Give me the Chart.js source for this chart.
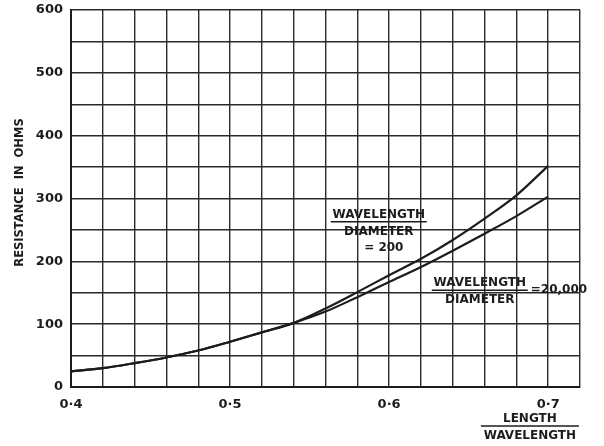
<!DOCTYPE html>
<html>
<head>
<meta charset="utf-8">
<script src="https://cdn.jsdelivr.net/npm/chart.js@4"></script>
<style>
  html, body { margin: 0; padding: 0; background: #fff; }
  #wrap { width: 604px; height: 446px; position: relative; }
</style>
</head>
<body>
<div id="wrap"><canvas id="chart"></canvas></div>
<script>
// length / wavelength
const LENGTH_RATIO = [0.40, 0.42, 0.44, 0.46, 0.48, 0.50, 0.52, 0.54,
                      0.56, 0.58, 0.60, 0.62, 0.64, 0.66, 0.68, 0.70];

// resistance (ohms), wavelength/diameter = 200
const RES_200 = [25, 30, 38, 47, 58, 72, 87, 102,
                 125, 151, 178, 204, 234, 268, 305, 352];

// resistance (ohms), wavelength/diameter = 20,000
const RES_20000 = [25, 30, 38, 47, 58, 72, 87, 102,
                   120, 143, 167, 191, 217, 244, 272, 303];

const X_LABELS = { "0.4": "0·4", "0.5": "0·5", "0.6": "0·6", "0.7": "0·7" };
const Y_LABELS = { 0: "0", 100: "100", 200: "200", 300: "300", 400: "400", 500: "500", 600: "600" };

const INK = "#1c1c1c";
const GRID = "#2a2a2a";

function toPoints(xs, ys) {
  return xs.map((x, i) => ({ x: x, y: ys[i] }));
}

function fraction(ctx, cx, lineY, top, bottom, width) {
  ctx.textAlign = "center";
  ctx.textBaseline = "alphabetic";
  ctx.fillText(top, cx, lineY - 4);
  ctx.textBaseline = "top";
  ctx.fillText(bottom, cx, lineY + 4);
  ctx.beginPath();
  ctx.moveTo(cx - width / 2, lineY);
  ctx.lineTo(cx + width / 2, lineY);
  ctx.stroke();
}

const labelsPlugin = {
  id: "labels",
  afterDraw(chart) {
    const ctx = chart.ctx;
    const x = chart.scales.x;
    const y = chart.scales.y;
    const area = chart.chartArea;
    ctx.save();
    ctx.fillStyle = INK;
    ctx.strokeStyle = INK;
    ctx.lineWidth = 1.5;
    ctx.font = "bold 12px 'DejaVu Sans'";

    // curve labels
    let lx = x.getPixelForValue(0.5935);
    let ly = y.getPixelForValue(263);
    fraction(ctx, lx, ly, "WAVELENGTH", "DIAMETER", 96);
    ctx.textAlign = "center";
    ctx.textBaseline = "top";
    ctx.fillText("= 200", lx + 5, ly + 20);

    lx = x.getPixelForValue(0.657);
    ly = y.getPixelForValue(154);
    fraction(ctx, lx, ly, "WAVELENGTH", "DIAMETER", 96);
    ctx.textAlign = "left";
    ctx.textBaseline = "middle";
    ctx.fillText("=20,000", lx + 51, ly);

    // x axis title
    lx = x.getPixelForValue(0.6885);
    ly = area.bottom + 39;
    fraction(ctx, lx, ly, "LENGTH", "WAVELENGTH", 98);

    // y axis title
    ctx.translate(20, (area.top + area.bottom) / 2);
    ctx.rotate(-Math.PI / 2);
    ctx.textAlign = "center";
    ctx.textBaseline = "middle";
    ctx.font = "bold 11.5px 'DejaVu Sans'";
    ctx.fillText("RESISTANCE  IN  OHMS", 6, 0);
    ctx.restore();
  }
};

new Chart(document.getElementById("chart"), {
  type: "line",
  data: {
    datasets: [
      {
        label: "wavelength/diameter = 200",
        data: toPoints(LENGTH_RATIO, RES_200),
        borderColor: INK,
        borderWidth: 2.2,
        pointRadius: 0,
        cubicInterpolationMode: "monotone",
        fill: false
      },
      {
        label: "wavelength/diameter = 20,000",
        data: toPoints(LENGTH_RATIO, RES_20000),
        borderColor: INK,
        borderWidth: 2.2,
        pointRadius: 0,
        cubicInterpolationMode: "monotone",
        fill: false
      }
    ]
  },
  options: {
    responsive: true,
    maintainAspectRatio: false,
    animation: false,
    layout: { padding: { top: 10, right: 24, left: 0, bottom: 0 } },
    plugins: {
      legend: { display: false },
      tooltip: { enabled: false }
    },
    scales: {
      x: {
        type: "linear",
        min: 0.4,
        max: 0.72,
        afterFit: s => { s.height = 59; s.paddingLeft = 0; s.paddingRight = 0; },
        grid: { color: GRID, lineWidth: 1.4, drawTicks: false },
        border: { color: INK, width: 2 },
        ticks: {
          stepSize: 0.02,
          padding: 10,
          maxRotation: 0,
          autoSkip: false,
          color: INK,
          font: { family: "DejaVu Sans", size: 13, weight: "bold" },
          callback: v => X_LABELS[v.toFixed(2).replace(/0$/, "")] || ""
        }
      },
      y: {
        min: 0,
        max: 600,
        afterFit: s => { s.width = 71; s.paddingTop = 0; s.paddingBottom = 0; },
        grid: { color: GRID, lineWidth: 1.4, drawTicks: false },
        border: { color: INK, width: 2 },
        ticks: {
          stepSize: 50,
          padding: 8,
          autoSkip: false,
          color: INK,
          font: { family: "DejaVu Sans", size: 13, weight: "bold" },
          callback: v => Y_LABELS[v] || ""
        }
      }
    }
  },
  plugins: [labelsPlugin]
});
</script>
</body>
</html>
